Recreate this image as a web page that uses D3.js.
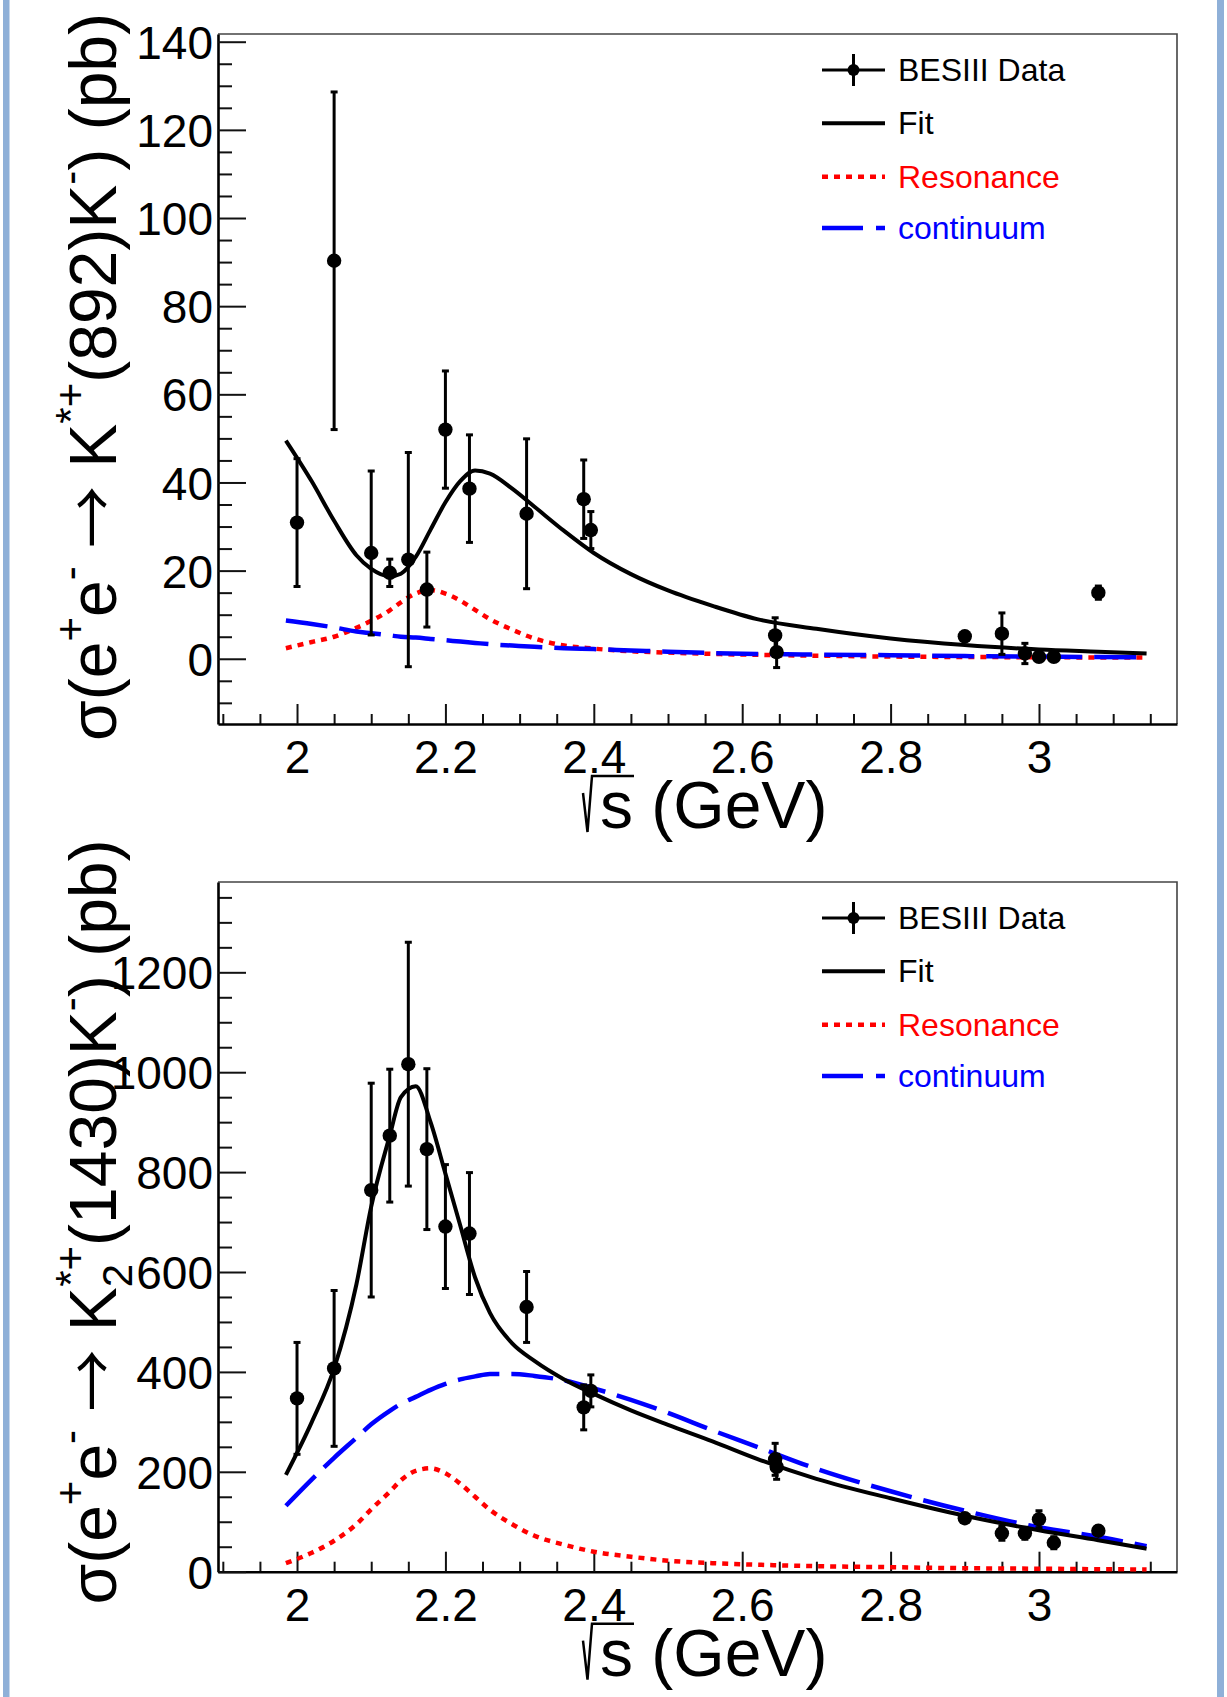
<!DOCTYPE html>
<html>
<head>
<meta charset="utf-8">
<script src="https://cdn.jsdelivr.net/npm/d3@7"></script>
<style>
    body { margin: 0; background: #fff; }
    svg { display: block; font-family: 'Liberation Sans', Arial, Helvetica, sans-serif; }
</style>
</head>
<body>
<svg id="chart" width="1227" height="1697"></svg>
<script>
// centre-of-mass energies of the BESIII points (GeV)
const energies = [2.0, 2.05, 2.1, 2.125, 2.15, 2.175, 2.2, 2.2324, 2.3094, 2.3864, 2.396,
    2.6444, 2.6464, 2.9, 2.95, 2.981, 3.0, 3.02, 3.08];

// K*(892) cross section and errors (pb)
const kstarXsec = [30.9, 90.3, 24.0, 19.5, 22.5, 15.7, 52.0, 38.6, 32.9, 36.2, 29.2,
    5.3, 1.5, 5.1, 5.7, 1.2, 0.45, 0.45, 15.0];
const kstarErr = [14.5, 38.3, 18.6, 3.1, 24.3, 8.5, 13.3, 12.2, 17.0, 8.9, 4.2,
    4.0, 3.5, 1.0, 4.7, 2.3, 0.8, 0.6, 1.5];

// K2*(1430) cross section and errors (pb)
const k2Xsec = [347, 407, 764, 873, 1016, 846, 691, 677, 530, 329, 362,
    225, 210, 107, 77, 77, 105, 58, 82];
const k2Err = [112, 156, 214, 133, 244, 161, 124, 122, 71, 45, 32,
    32, 25, 8, 14, 12, 17, 12, 8];

// sample points of the fitted curves
const curveX = [1.985, 2.02, 2.05, 2.08, 2.10, 2.125, 2.14, 2.16, 2.18, 2.20, 2.22, 2.24, 2.26,
    2.29, 2.32, 2.36, 2.40, 2.45, 2.50, 2.56, 2.62, 2.70, 2.80, 2.90, 3.00, 3.08, 3.145];

const kstarFit = [49.5, 40.2, 31.3, 23.5, 20.4, 18.7, 19.3, 23.1, 29.3, 35.5, 40.3, 42.7, 42.0,
    38.6, 34.5, 29.0, 24.0, 19.2, 15.5, 12.0, 9.0, 6.8, 4.6, 3.1, 2.1, 1.6, 1.2];
const kstarRes = [2.4, 3.8, 5.0, 7.0, 8.6, 11.0, 12.8, 14.8, 15.6, 14.8, 13.2, 11.1, 9.0,
    6.6, 4.6, 3.0, 2.3, 1.7, 1.4, 1.1, 0.9, 0.7, 0.5, 0.4, 0.35, 0.3, 0.3];
const kstarCont = [8.7, 7.9, 7.1, 6.2, 5.8, 5.3, 5.0, 4.8, 4.5, 4.2, 3.9, 3.6, 3.3,
    3.0, 2.7, 2.4, 2.2, 1.9, 1.6, 1.3, 1.1, 0.95, 0.8, 0.6, 0.5, 0.4, 0.35];

const k2Fit = [194, 300, 407, 575, 731, 873, 950, 972, 900, 797, 693, 589, 518,
    457, 422, 385, 356, 323, 294, 261, 226, 186, 147, 112, 83, 63, 46];
const k2Res = [17, 38, 62, 95, 125, 160, 183, 202, 207, 197, 176, 150, 124,
    95, 72, 54, 40, 30, 22, 17, 14, 11, 9, 7, 6, 5, 4.5];
const k2Cont = [132, 185, 228, 268, 295, 322, 336, 350, 364, 376, 385, 391, 396,
    396, 392, 383, 367, 344, 318, 283, 250, 206, 161, 122, 89, 70, 51];

// axis ticks and labels
const xTickValues = [2.0, 2.2, 2.4, 2.6, 2.8, 3.0];
const xTickLabels = ['2', '2.2', '2.4', '2.6', '2.8', '3'];
const yTicksTop = [0, 20, 40, 60, 80, 100, 120, 140];
const yTicksBottom = [0, 200, 400, 600, 800, 1000, 1200];

const legendLabels = ['BESIII Data', 'Fit', 'Resonance', 'continuum'];

// y titles, pieces with their script position
const titleTopParts = [
    {t: 'σ(e'}, {t: '+', kind: 'sup'}, {t: 'e'}, {t: '-', kind: 'sup'},
    {t: ' '}, {t: '→', arrow: true}, {t: ' K'}, {t: '*+', kind: 'sup'}, {t: '(892)K'},
    {t: '-', kind: 'sup'}, {t: ') (pb)'}
];
const titleBottomParts = [
    {t: 'σ(e'}, {t: '+', kind: 'sup'}, {t: 'e'}, {t: '-', kind: 'sup'},
    {t: ' '}, {t: '→', arrow: true}, {t: ' K'}, {t: '2', kind: 'sub'}, {t: '*+', kind: 'sup', back: 23},
    {t: '(1430)K'}, {t: '-', kind: 'sup'}, {t: ') (pb)'}
];

const svg = d3.select('#chart');
const frameLeft = 218, frameRight = 1177;
const xDomain = [1.8935, 3.186];

// light blue page edges
svg.append('rect').attr('x', 3).attr('y', 0).attr('width', 6.5).attr('height', 1697).attr('fill', '#8fb0d8');
svg.append('rect').attr('x', 1217).attr('y', 0).attr('width', 7).attr('height', 1697).attr('fill', '#8fb0d8');

function drawPanel(p) {
    const g = svg.append('g');
    const x = d3.scaleLinear().domain(xDomain).range([frameLeft, frameRight]);
    const y = d3.scaleLinear().domain(p.yDomain).range([p.bottom, p.top]);

    // frame top and right
    g.append('path')
        .attr('d', `M${frameLeft},${p.top}H${frameRight}V${p.bottom}`)
        .attr('fill', 'none').attr('stroke', '#444').attr('stroke-width', 1.6);

    // x axis: minor then major ticks
    const xMinor = d3.range(1.9, 3.16, 0.05).filter(v => Math.abs(v * 5 - Math.round(v * 5)) > 1e-6);
    g.append('g').attr('transform', `translate(0,${p.bottom})`)
        .call(d3.axisBottom(x).tickValues(xMinor).tickSizeInner(-10).tickSizeOuter(0).tickFormat(''))
        .call(a => a.select('.domain').remove())
        .call(a => a.selectAll('line').attr('stroke', '#111').attr('stroke-width', 2));
    g.append('g').attr('transform', `translate(0,${p.bottom})`)
        .call(d3.axisBottom(x).tickValues(xTickValues).tickSizeInner(-20).tickSizeOuter(0)
            .tickFormat((d, i) => xTickLabels[i]))
        .call(a => a.select('.domain').attr('stroke', '#000').attr('stroke-width', 2.6))
        .call(a => a.selectAll('line').attr('stroke', '#111').attr('stroke-width', 2))
        .call(a => a.selectAll('text').attr('y', 49).attr('dy', 0)
            .attr('font-size', 46).attr('fill', '#000').attr('font-family', null));

    // y axis
    g.append('g').attr('transform', `translate(${frameLeft},0)`)
        .call(d3.axisLeft(y).tickValues(p.yMinor).tickSizeInner(-14).tickSizeOuter(0).tickFormat(''))
        .call(a => a.select('.domain').remove())
        .call(a => a.selectAll('line').attr('stroke', '#111').attr('stroke-width', 2));
    g.append('g').attr('transform', `translate(${frameLeft},0)`)
        .call(d3.axisLeft(y).tickValues(p.yTicks).tickSizeInner(-28).tickSizeOuter(0).tickPadding(5)
            .tickFormat(d => String(d)))
        .call(a => a.select('.domain').attr('stroke', '#000').attr('stroke-width', 2.6))
        .call(a => a.selectAll('line').attr('stroke', '#111').attr('stroke-width', 2))
        .call(a => a.selectAll('text').attr('dy', '0.36em')
            .attr('font-size', 46).attr('fill', '#000').attr('font-family', null));

    // curves, clipped to the frame
    const clipId = 'clip' + p.top;
    g.append('clipPath').attr('id', clipId).append('rect')
        .attr('x', frameLeft).attr('y', p.top)
        .attr('width', frameRight - frameLeft).attr('height', p.bottom - p.top);
    const plot = g.append('g').attr('clip-path', `url(#${clipId})`);
    const line = d3.line().x(d => x(d[0])).y(d => y(d[1])).curve(d3.curveMonotoneX);

    plot.append('path').datum(d3.zip(curveX, p.res)).attr('d', line)
        .attr('fill', 'none').attr('stroke', '#ff0000').attr('stroke-width', 4.5)
        .attr('stroke-dasharray', '6 6');
    plot.append('path').datum(d3.zip(curveX, p.cont)).attr('d', line)
        .attr('fill', 'none').attr('stroke', '#0000ff').attr('stroke-width', 4.5)
        .attr('stroke-dasharray', '42 12');
    plot.append('path').datum(d3.zip(curveX, p.fit)).attr('d', line)
        .attr('fill', 'none').attr('stroke', '#000').attr('stroke-width', 4);

    // data points with error bars
    const pts = energies.map((e, i) => ({e: e, v: p.xsec[i], err: p.err[i]}));
    const dots = plot.append('g');
    dots.selectAll('.bar').data(pts).join('line').attr('class', 'bar')
        .attr('x1', d => x(d.e)).attr('x2', d => x(d.e))
        .attr('y1', d => y(d.v - d.err)).attr('y2', d => y(d.v + d.err))
        .attr('stroke', '#000').attr('stroke-width', 3);
    ['lo', 'hi'].forEach(k => {
        dots.selectAll('.cap' + k).data(pts).join('line').attr('class', 'cap' + k)
            .attr('x1', d => x(d.e) - 3.5).attr('x2', d => x(d.e) + 3.5)
            .attr('y1', d => y(k === 'lo' ? d.v - d.err : d.v + d.err))
            .attr('y2', d => y(k === 'lo' ? d.v - d.err : d.v + d.err))
            .attr('stroke', '#000').attr('stroke-width', 3);
    });
    dots.selectAll('circle').data(pts).join('circle')
        .attr('cx', d => x(d.e)).attr('cy', d => y(d.v)).attr('r', 7.2).attr('fill', '#000');

    // legend
    const lg = g.append('g');
    const rows = [p.top + 36, p.top + 89.3, p.top + 142.7, p.top + 194];
    const colors = ['#000', '#000', '#ff0000', '#0000ff'];
    lg.append('line').attr('x1', 822).attr('x2', 885).attr('y1', rows[0]).attr('y2', rows[0])
        .attr('stroke', '#000').attr('stroke-width', 3);
    lg.append('line').attr('x1', 853.5).attr('x2', 853.5).attr('y1', rows[0] - 16).attr('y2', rows[0] + 16)
        .attr('stroke', '#000').attr('stroke-width', 3);
    lg.append('circle').attr('cx', 853.5).attr('cy', rows[0]).attr('r', 6).attr('fill', '#000');
    lg.append('line').attr('x1', 822).attr('x2', 885).attr('y1', rows[1]).attr('y2', rows[1])
        .attr('stroke', '#000').attr('stroke-width', 4);
    lg.append('line').attr('x1', 822).attr('x2', 885).attr('y1', rows[2]).attr('y2', rows[2])
        .attr('stroke', '#ff0000').attr('stroke-width', 4.5).attr('stroke-dasharray', '6 6');
    lg.append('line').attr('x1', 822).attr('x2', 885).attr('y1', rows[3]).attr('y2', rows[3])
        .attr('stroke', '#0000ff').attr('stroke-width', 4.5).attr('stroke-dasharray', '41 13');
    lg.selectAll('text').data(legendLabels).join('text')
        .attr('x', 898).attr('y', (d, i) => rows[i] + 11)
        .attr('font-size', 32).attr('fill', (d, i) => colors[i]).text(d => d);

    // y title (rotated, with super/subscripts)
    const t = g.append('text')
        .attr('transform', `translate(116,${p.titleCenter}) rotate(-90)`)
        .attr('text-anchor', 'middle').attr('font-size', 66).style('white-space', 'pre');
    let shift = 0;
    p.titleParts.forEach(pt => {
        const target = pt.kind === 'sup' ? -31 : pt.kind === 'sub' ? 16 : 0;
        const s = t.append('tspan').attr('dy', target - shift).text(pt.t);
        shift = target;
        if (pt.kind) s.attr('font-size', 42);
        if (pt.back) s.attr('dx', -pt.back);
        if (pt.arrow) s.attr('font-family', "'Noto Sans CJK SC', 'DejaVu Sans', sans-serif").attr('font-size', 62);
    });

    // x title: radical sign plus "s (GeV)"
    const base = p.bottom + 104;
    g.append('path')
        .attr('d', `M583,${base - 35}L587.5,${base + 4}L592,${base - 52}H634`)
        .attr('fill', 'none').attr('stroke', '#000').attr('stroke-width', 2.5);
    g.append('text').attr('x', 600).attr('y', base).attr('font-size', 66)
        .style('white-space', 'pre').text('s (GeV)');
}

drawPanel({
    top: 34, bottom: 724, yDomain: [-14.8, 141.75],
    yTicks: yTicksTop, yMinor: d3.range(-10, 141, 5).filter(v => v % 20 !== 0),
    xsec: kstarXsec, err: kstarErr, fit: kstarFit, res: kstarRes, cont: kstarCont,
    titleParts: titleTopParts, titleCenter: 377
});

drawPanel({
    top: 882, bottom: 1571.7, yDomain: [0, 1380.8],
    yTicks: yTicksBottom, yMinor: d3.range(50, 1380, 50).filter(v => v % 200 !== 0),
    xsec: k2Xsec, err: k2Err, fit: k2Fit, res: k2Res, cont: k2Cont,
    titleParts: titleBottomParts, titleCenter: 1222
});
</script>
</body>
</html>
